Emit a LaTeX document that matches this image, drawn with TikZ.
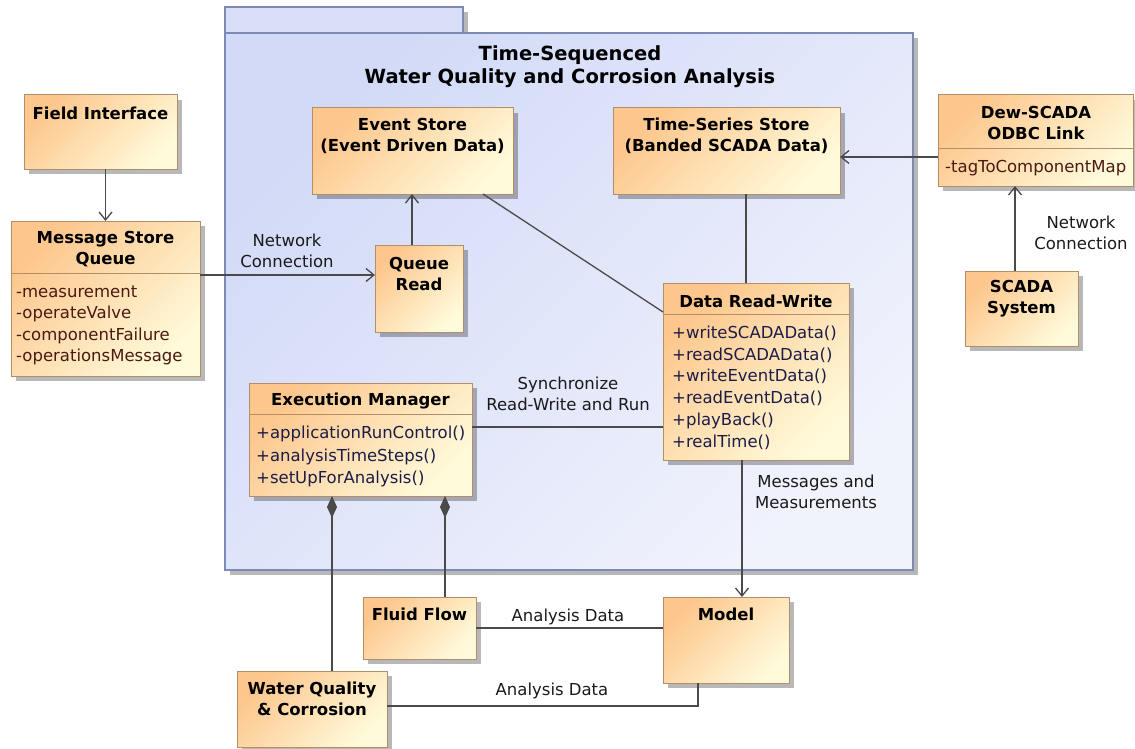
\documentclass[tikz,border=0pt]{standalone}
\usepackage{fontspec}
\setmainfont{DejaVu Sans}
\usetikzlibrary{arrows.meta,shadows}
\definecolor{boxA}{HTML}{FDC68C}
\definecolor{boxB}{HTML}{FFFADA}
\definecolor{boxBorder}{HTML}{B38E68}
\definecolor{pkgA}{HTML}{D2DAF7}
\definecolor{pkgB}{HTML}{F0F2FC}
\definecolor{pkgTab}{HTML}{D9DFF8}
\definecolor{pkgBorder}{HTML}{7D8AB3}
\definecolor{lineClr}{HTML}{4A4A4A}
\definecolor{attrClr}{HTML}{4A1A12}
\definecolor{methClr}{HTML}{1C1C48}
\definecolor{lblClr}{HTML}{1A1A1A}
\begin{document}
\begin{tikzpicture}[x=1pt,y=-1pt,
  cls/.style={draw=boxBorder, line width=1pt, inner sep=0pt, outer sep=0pt, anchor=north west,
    top color=boxA, bottom color=boxB, shading angle=45,
    drop shadow={shadow xshift=5pt, shadow yshift=-5pt, fill=black, opacity=0.28}},
  pkgbox/.style={draw=pkgBorder, line width=1.2pt, inner sep=0pt, outer sep=0pt, anchor=north west,
    top color=pkgA, bottom color=pkgB, shading angle=45,
    drop shadow={shadow xshift=5pt, shadow yshift=-5pt, fill=black, opacity=0.28}},
  pkgtabbox/.style={draw=pkgBorder, line width=1.2pt, inner sep=0pt, outer sep=0pt, anchor=north west,
    fill=pkgTab,
    drop shadow={shadow xshift=5pt, shadow yshift=-5pt, fill=black, opacity=0.28}},
  ttl/.style={font=\bfseries\fontsize{16.5}{21}\selectfont, align=center, inner sep=0pt, text=black},
  ptitle/.style={font=\bfseries\fontsize{19.5}{23}\selectfont, align=center, inner sep=0pt, text=black},
  attr/.style={font=\fontsize{16.5}{21}\selectfont, inner sep=0pt, anchor=base west, text=attrClr},
  meth/.style={font=\fontsize{16.5}{21}\selectfont, inner sep=0pt, anchor=base west, text=methClr},
  lbl/.style={font=\fontsize{16.5}{21}\selectfont, align=center, inner sep=0pt, text=lblClr},
  conn/.style={draw=lineClr, line width=1.3pt},
  arr/.style={conn, -{Straight Barb[length=8pt,width=13pt]}},
  comp/.style={conn, {Diamond[length=22pt,width=10pt]}-},
  divider/.style={draw=boxBorder, line width=1pt}
]
\useasboundingbox (0,0) rectangle (1135,749);

% package
\node[pkgtabbox, minimum width=238, minimum height=26] (pkgtab) at (225,7) {};
\node[pkgbox, minimum width=688, minimum height=537] (pkg) at (225,33) {};
\node[ptitle] (pkg-t) at (570,66.5) {Time-Sequenced\\Water Quality and Corrosion Analysis};

% Field Interface
\node[cls, minimum width=153, minimum height=74] (fi) at (24,95) {};
\node[ttl] (fi-t) at (100.5,113) {Field Interface};

% Message Store Queue
\node[cls, minimum width=189, minimum height=155] (msq) at (11,221) {};
\draw[divider] ([yshift=-52pt]msq.north west) -- ([yshift=-52pt]msq.north east);
\node[ttl] (msq-t) at (105.5,249) {Message Store\\Queue};
\foreach \t [count=\i] in {-measurement,-operateValve,-componentFailure,-operationsMessage}
  \node[attr] (msq-a\i) at (16,{297.5+21.3*(\i-1)}) {\t};

% Event Store
\node[cls, minimum width=201, minimum height=86] (es) at (312,108) {};
\node[ttl] (es-t) at (412.5,135.5) {Event Store\\(Event Driven Data)};

% Time-Series Store
\node[cls, minimum width=227, minimum height=86] (ts) at (613,108) {};
\node[ttl] (ts-t) at (726.5,135.5) {Time-Series Store\\(Banded SCADA Data)};

% Dew-SCADA ODBC Link
\node[cls, minimum width=195, minimum height=91] (dew) at (938,95) {};
\draw[divider] ([yshift=-54pt]dew.north west) -- ([yshift=-54pt]dew.north east);
\node[ttl] (dew-t) at (1036,123) {Dew-SCADA\\ODBC Link};
\node[attr] (dew-a1) at (945,172.5) {-tagToComponentMap};

% SCADA System
\node[cls, minimum width=113, minimum height=75] (scada) at (965,271) {};
\node[ttl] (scada-t) at (1021.5,299) {SCADA\\System};

% Queue Read
\node[cls, minimum width=88, minimum height=87] (qr) at (375,245) {};
\node[ttl] (qr-t) at (419,273.5) {Queue\\Read};

% Data Read-Write
\node[cls, minimum width=186, minimum height=177] (drw) at (663,283) {};
\draw[divider] ([yshift=-31pt]drw.north west) -- ([yshift=-31pt]drw.north east);
\node[ttl] (drw-t) at (756,301) {Data Read-Write};
\foreach \t [count=\i] in {+writeSCADAData(),+readSCADAData(),+writeEventData(),+readEventData(),+playBack(),+realTime()}
  \node[meth] (drw-m\i) at (672,{338.5+21.7*(\i-1)}) {\t};

% Execution Manager
\node[cls, minimum width=223, minimum height=113] (em) at (249,383) {};
\draw[divider] ([yshift=-31pt]em.north west) -- ([yshift=-31pt]em.north east);
\node[ttl] (em-t) at (360.5,401) {Execution Manager};
\foreach \t [count=\i] in {+applicationRunControl(),+analysisTimeSteps(),+setUpForAnalysis()}
  \node[meth] (em-m\i) at (256,{438.5+22.5*(\i-1)}) {\t};

% Fluid Flow
\node[cls, minimum width=113, minimum height=62] (ff) at (363,597) {};
\node[ttl] (ff-t) at (419.5,614) {Fluid Flow};

% Model
\node[cls, minimum width=126, minimum height=86] (model) at (663,597) {};
\node[ttl] (model-t) at (726,614) {Model};

% Water Quality & Corrosion
\node[cls, minimum width=150, minimum height=76] (wq) at (237,671) {};
\node[ttl] (wq-t) at (312,699) {Water Quality\\\& Corrosion};

% connector anchor points
\coordinate (ncy) at ([yshift=-30pt]qr.north west);
\coordinate (qrtop) at ([xshift=37pt]qr.north west);
\coordinate (esp) at ([xshift=-30pt]es.south east);
\coordinate (drwl) at ([yshift=-29pt]drw.north west);
\coordinate (drwtop) at ([xshift=-10pt]drw.north);
\coordinate (dewl) at ([yshift=-62pt]dew.north west);
\coordinate (scu) at ([xshift=-6.5pt]scada.north);
\coordinate (emr) at ([yshift=-44pt]em.north east);
\coordinate (drwb) at ([xshift=-14pt]drw.south);
\coordinate (emd1) at ([xshift=83pt]em.south west);
\coordinate (emd2) at ([xshift=-27pt]em.south east);
\coordinate (ffr) at ([yshift=-31pt]ff.north east);
\coordinate (wqr) at ([yshift=-35pt]wq.north east);
\coordinate (mb) at ([xshift=35pt]model.south west);

% connectors
\draw[arr] (msq.north |- fi.south) -- (msq.north);
\draw[arr] (msq.east |- ncy) -- (ncy);
\draw[arr] (qrtop) -- (qrtop |- es.south);
\draw[conn] (esp) -- (drwl);
\draw[conn] (drwtop |- ts.south) -- (drwtop);
\draw[arr] (dewl) -- (dewl -| ts.east);
\draw[arr] (scu) -- (scu |- dew.south);
\draw[conn] (emr) -- (emr -| drw.west);
\draw[arr] (drwb) -- (drwb |- model.north);
\draw[comp] (emd1) -- (emd1 |- wq.north);
\draw[comp] (emd2) -- (emd2 |- ff.north);
\draw[conn] (ffr) -- (ffr -| model.west);
\draw[conn] (wqr) -- (wqr -| mb) -- (mb);

% labels
\node[lbl] (l-nc1) at (287,251) {Network\\Connection};
\node[lbl] (l-nc2) at (1081,233) {Network\\Connection};
\node[lbl] (l-sync) at (568,393.5) {Synchronize\\Read-Write and Run};
\node[lbl] (l-mm) at (816,492) {Messages and\\Measurements};
\node[lbl] (l-ad1) at (568,617) {Analysis Data};
\node[lbl] (l-ad2) at (552,691) {Analysis Data};
\end{tikzpicture}
\end{document}
